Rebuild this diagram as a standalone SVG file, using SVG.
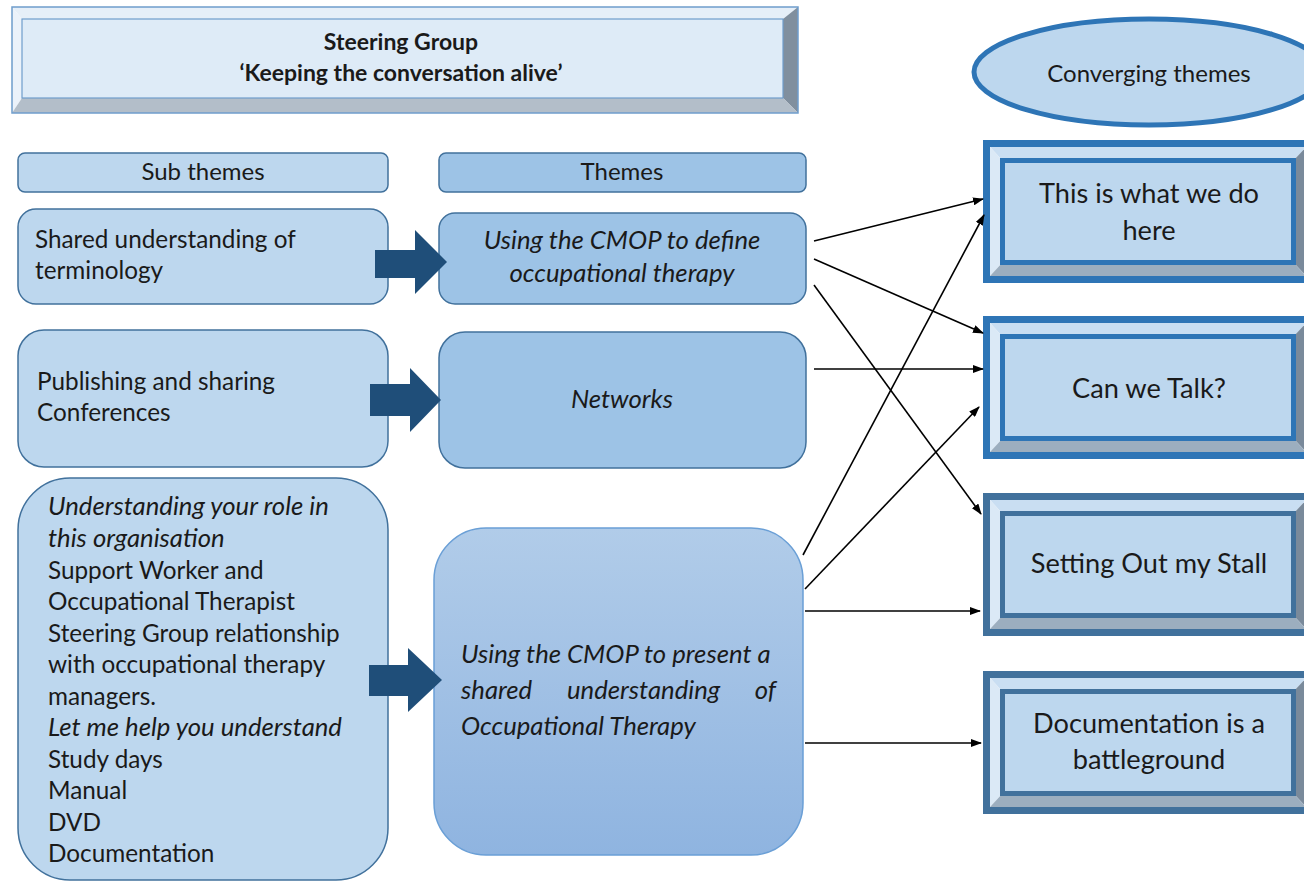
<svg xmlns="http://www.w3.org/2000/svg" width="1304" height="881" viewBox="0 0 1304 881">
  <defs>
    <style>
      text { font-family: Lato, "Open Sans", "Liberation Sans", sans-serif; fill: #1a1a1a; }
      .hdr { font-size: 24px; text-anchor: middle; }
      .sub { font-size: 24.3px; }
      .it { font-style: italic; font-size: 25.7px; }
      .mid { text-anchor: middle; }
      .big { font-size: 27.2px; text-anchor: middle; }
      .title { font-size: 23px; font-weight: bold; text-anchor: middle; }
      .light { fill: #bdd7ee; stroke: #41719c; stroke-width: 1.5; }
      .theme { fill: #9dc3e6; stroke: #41719c; stroke-width: 1.5; }
      .block { fill: #1f4e79; }
      .conn { stroke: #000; stroke-width: 1.6; fill: none; marker-end: url(#head); }
      .bv-top { fill: #c9def2; }
      .bv-left { fill: #dbe9f6; }
      .bv-right { fill: #7a8a9b; }
      .bv-bottom { fill: #9caebf; }
      .face { fill: #bdd7ee; stroke-width: 5; }
      .rim { fill: none; stroke-width: 7; }
    </style>
    <marker id="head" markerUnits="userSpaceOnUse" markerWidth="11" markerHeight="8" refX="10" refY="4" orient="auto">
      <path d="M0,0 L11,4 L0,8 z" fill="#000"/>
    </marker>
    <linearGradient id="present" x1="0" y1="0" x2="0" y2="1">
      <stop offset="0" stop-color="#b1cce9"/>
      <stop offset="1" stop-color="#8fb4e0"/>
    </linearGradient>
    <!-- bevelled frame used by the four converging-theme boxes -->
    <g id="bevel">
      <polygon class="bv-top" points="7,7 323,7 310.5,20.5 19.5,20.5"/>
      <polygon class="bv-left" points="7,7 19.5,20.5 19.5,122.5 7,136"/>
      <polygon class="bv-right" points="323,7 323,136 310.5,122.5 310.5,20.5"/>
      <polygon class="bv-bottom" points="7,136 19.5,122.5 310.5,122.5 323,136"/>
    </g>
  </defs>

  <rect width="1304" height="881" fill="#ffffff"/>

  <!-- Title -->
  <g id="steering-group">
    <polygon points="12,7 798,7 783,19 22,19" fill="#e6eff8"/>
    <polygon points="12,7 22,19 22,98 12,113" fill="#ebf2fa"/>
    <polygon points="798,7 798,113 783,98 783,19" fill="#808f9e"/>
    <polygon points="12,113 22,98 783,98 798,113" fill="#b3bec9"/>
    <rect x="22" y="19" width="761" height="79" fill="#deebf7" stroke="#6f9dcc" stroke-width="1.2"/>
    <rect x="12" y="7" width="786" height="106" fill="none" stroke="#6f9dcc" stroke-width="1.5"/>
    <text class="title" x="401" y="50">Steering Group</text>
    <text class="title" x="401" y="81">‘Keeping the conversation alive’</text>
  </g>

  <!-- Column headers -->
  <g id="hdr-sub">
    <rect class="light" x="18" y="153" width="370" height="39" rx="7"/>
    <text class="hdr" x="203" y="180">Sub themes</text>
  </g>
  <g id="hdr-themes">
    <rect class="theme" x="439" y="153" width="367" height="39" rx="7"/>
    <text class="hdr" x="622" y="180">Themes</text>
  </g>

  <!-- Sub themes -->
  <g id="sub-terminology">
    <rect class="light" x="18" y="209" width="370" height="95" rx="18"/>
    <text class="sub" x="35" y="248">Shared understanding of</text>
    <text class="sub" x="35" y="279">terminology</text>
  </g>
  <g id="sub-publishing">
    <rect class="light" x="18" y="330" width="370" height="137" rx="26"/>
    <text class="sub" x="37" y="390">Publishing and sharing</text>
    <text class="sub" x="37" y="421">Conferences</text>
  </g>
  <g id="sub-role">
    <rect class="light" x="18" y="478" width="370" height="402" rx="52"/>
    <text class="sub it" x="48" y="515">Understanding your role in</text>
    <text class="sub it" x="48" y="547">this organisation</text>
    <text class="sub" x="48" y="579">Support Worker and</text>
    <text class="sub" x="48" y="610">Occupational Therapist</text>
    <text class="sub" x="48" y="642">Steering Group relationship</text>
    <text class="sub" x="48" y="673">with occupational therapy</text>
    <text class="sub" x="48" y="705">managers.</text>
    <text class="sub it" x="48" y="736">Let me help you understand</text>
    <text class="sub" x="48" y="768">Study days</text>
    <text class="sub" x="48" y="799">Manual</text>
    <text class="sub" x="48" y="831">DVD</text>
    <text class="sub" x="48" y="862">Documentation</text>
  </g>

  <!-- Themes -->
  <g id="theme-define">
    <rect class="theme" x="439" y="213" width="367" height="91" rx="16"/>
    <text class="sub it mid" x="622" y="249">Using the CMOP to define</text>
    <text class="sub it mid" x="622" y="282">occupational therapy</text>
  </g>
  <g id="theme-networks">
    <rect class="theme" x="439" y="332" width="367" height="136" rx="26"/>
    <text class="sub it mid" x="622" y="408">Networks</text>
  </g>
  <g id="theme-present">
    <rect x="434" y="528" width="369" height="327" rx="52" fill="url(#present)" stroke="#6a9fd6" stroke-width="1.5"/>
    <text class="sub it" x="461" y="663">Using the CMOP to present a</text>
    <text class="sub it" x="461" y="699">shared</text>
    <text class="sub it" x="567" y="699">understanding</text>
    <text class="sub it" x="776" y="699" text-anchor="end">of</text>
    <text class="sub it" x="461" y="735">Occupational Therapy</text>
  </g>

  <!-- Block arrows from sub themes to themes -->
  <g id="block-arrows">
    <polygon class="block" points="375,250 415,250 415,230 447,262 415,294 415,278 375,278"/>
    <polygon class="block" points="370,384 410,384 410,368 441,400 410,432 410,416 370,416"/>
    <polygon class="block" points="369,665 408,665 408,648 442,680 408,712 408,696 369,696"/>
  </g>

  <!-- Converging themes -->
  <g id="converging">
    <ellipse cx="1149" cy="72" rx="175" ry="53" fill="#bdd7ee" stroke="#2e75b6" stroke-width="5"/>
    <text class="mid" x="1149" y="82" style="font-size:24px">Converging themes</text>
  </g>
  <g id="conv-what-we-do" transform="translate(983,140)">
    <use href="#bevel"/>
    <rect class="face" x="19.5" y="20.5" width="291" height="102" stroke="#2e75b6"/>
    <rect class="rim" x="3.5" y="3.5" width="323" height="136" stroke="#2e75b6"/>
    <text class="big" x="166" y="63">This is what we do</text>
    <text class="big" x="166" y="100">here</text>
  </g>
  <g id="conv-talk" transform="translate(983,316)">
    <use href="#bevel"/>
    <rect class="face" x="19.5" y="20.5" width="291" height="102" stroke="#2e75b6"/>
    <rect class="rim" x="3.5" y="3.5" width="323" height="136" stroke="#2e75b6"/>
    <text class="big" x="166" y="82">Can we Talk?</text>
  </g>
  <g id="conv-stall" transform="translate(983,493)">
    <use href="#bevel"/>
    <rect class="face" x="19.5" y="20.5" width="291" height="102" stroke="#41719c"/>
    <rect class="rim" x="3.5" y="3.5" width="323" height="136" stroke="#41719c"/>
    <text class="big" x="166" y="80">Setting Out my Stall</text>
  </g>
  <g id="conv-documentation" transform="translate(983,671)">
    <use href="#bevel"/>
    <rect class="face" x="19.5" y="20.5" width="291" height="102" stroke="#41719c"/>
    <rect class="rim" x="3.5" y="3.5" width="323" height="136" stroke="#41719c"/>
    <text class="big" x="166" y="62">Documentation is a</text>
    <text class="big" x="166" y="98">battleground</text>
  </g>

  <!-- Connectors from themes to converging themes -->
  <g id="connectors">
    <line class="conn" x1="814" y1="241" x2="983" y2="199"/>
    <line class="conn" x1="814" y1="259" x2="983" y2="333"/>
    <line class="conn" x1="814" y1="285" x2="981" y2="514"/>
    <line class="conn" x1="814" y1="369" x2="983" y2="369"/>
    <line class="conn" x1="803" y1="555" x2="984" y2="215"/>
    <line class="conn" x1="805" y1="589" x2="979" y2="407"/>
    <line class="conn" x1="805" y1="611" x2="980" y2="611"/>
    <line class="conn" x1="805" y1="743" x2="981" y2="743"/>
  </g>
</svg>
